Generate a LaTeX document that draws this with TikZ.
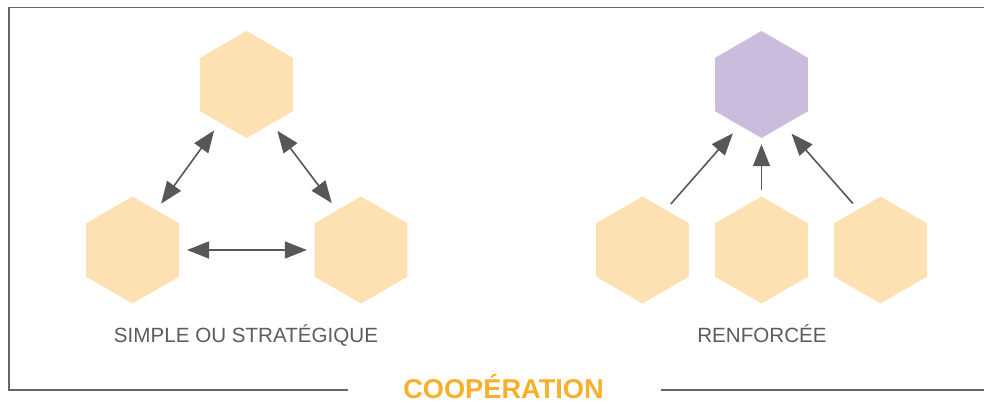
\documentclass[tikz,border=0pt]{standalone}
\usepackage{fontspec}
\setmainfont{Liberation Sans}
\usetikzlibrary{shapes.geometric,arrows.meta}
\definecolor{hexorange}{HTML}{FDE1B3}
\definecolor{hexpurple}{HTML}{CBBCDD}
\definecolor{arrowgray}{HTML}{575757}
\definecolor{framegray}{HTML}{666666}
\definecolor{labelgray}{HTML}{5C5C5C}
\definecolor{titleorange}{HTML}{F8AF2C}
\tikzset{
  hexbox/.style={regular polygon, regular polygon sides=6, shape border rotate=30,
    minimum size=107pt, inner sep=0pt, draw=none},
  hexo/.style={hexbox, fill=hexorange},
  hexp/.style={hexbox, fill=hexpurple},
  arr/.style={draw=arrowgray, line width=1.6pt,
    -{Triangle[length=22pt,width=17pt]}},
  darr/.style={draw=arrowgray, line width=1.6pt,
    {Triangle[length=22pt,width=17pt]}-{Triangle[length=22pt,width=17pt]}},
  framestyle/.style={draw=framegray, line width=1.5pt},
  lbl/.style={text=labelgray, font=\fontsize{20.6pt}{24pt}\selectfont, anchor=base, inner sep=0pt},
  ttl/.style={text=titleorange, font=\fontsize{27.2pt}{32pt}\selectfont\bfseries, anchor=base, inner sep=0pt}
}
\begin{document}
\begin{tikzpicture}[x=1pt,y=-1pt]
\useasboundingbox (0,0) rectangle (984,404);
% frame
\coordinate (fbl) at (348,390);
\coordinate (fbr) at (661,390);
\draw[framestyle] (fbl) -- (9,390) -- (9,7.5) -- (984,7.5);
\draw[framestyle] (fbr) -- (984,390);
% left group
\node[hexo] (t) at (246.5,84.5) {};
\node[hexo] (l) at (132.5,250) {};
\node[hexo] (r) at (361,250) {};
\draw[darr, shorten <=8pt, shorten >=9.5pt] (l.59.7) -- (t.235.9);
\draw[darr, shorten <=9pt, shorten >=8.8pt] (t.303.3) -- (r.121.7);
\draw[darr, shorten <=8pt, shorten >=7.6pt] (l.0) -- (r.180);
\node[lbl] (lab1) at (246,342) {SIMPLE OU STRATÉGIQUE};
% right group
\node[hexp] (p) at (761.5,84.5) {};
\node[hexo] (a) at (642.5,250) {};
\node[hexo] (b) at (761.5,250) {};
\node[hexo] (c) at (880.5,250) {};
\draw[arr, shorten <=7.6pt, shorten >=10.3pt] (a.60.6) -- (p.242.8);
\draw[arr, shorten <=6.5pt, shorten >=6pt] (b.90) -- (p.270);
\draw[arr, shorten <=7.6pt, shorten >=11.2pt] (c.119.4) -- (p.299);
\node[lbl] (lab2) at (762,342) {RENFORCÉE};
% title
\node[ttl] (title) at (503.5,398) {COOPÉRATION};
\end{tikzpicture}
\end{document}
